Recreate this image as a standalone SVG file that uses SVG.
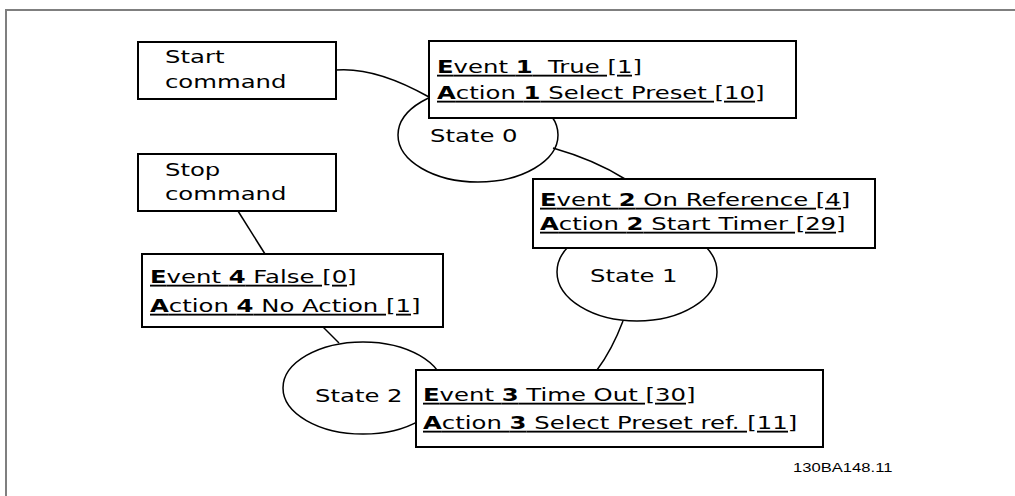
<svg xmlns="http://www.w3.org/2000/svg" width="1015" height="496" viewBox="0 0 1015 496">
<style>
.box{fill:#fff;stroke:#000;stroke-width:2}
.st{fill:#fff;stroke:#000;stroke-width:1.5}
.ln{fill:none;stroke:#000;stroke-width:1.5}
text{font-family:"DejaVu Sans",Verdana,sans-serif;font-size:18.5px;fill:#000}
.u{text-decoration:underline}
.b{font-weight:bold}
.code{font-family:"Liberation Sans",Arial,sans-serif;font-size:12.5px}
</style>
<rect width="1015" height="496" fill="#fff"/>
<path d="M6,496 V10 H1015" fill="none" stroke="#7f7f7f" stroke-width="2"/>
<g id="state0"><ellipse class="st" cx="478" cy="135" rx="80" ry="47"/><text transform="translate(430,142) scale(1.315,1)">State 0</text></g>
<g id="state1"><ellipse class="st" cx="637" cy="272" rx="80" ry="49"/><text transform="translate(590,282) scale(1.315,1)">State 1</text></g>
<g id="state2"><ellipse class="st" cx="363" cy="388" rx="80" ry="46"/><text transform="translate(315,402) scale(1.315,1)">State 2</text></g>
<g id="connectors">
<path class="ln" d="M336,70 C360,68 390,75 429,97"/>
<path class="ln" d="M553,148 Q595,160 625,179"/>
<path class="ln" d="M623,321 Q612,350 597,370"/>
<path class="ln" d="M238,211 L265,254"/>
<path class="ln" d="M323,327 L339,343"/>
</g>
<g id="start"><rect class="box" x="138" y="42" width="198" height="57"/><text transform="translate(165,63) scale(1.315,1)">Start</text><text transform="translate(165,88) scale(1.315,1)">command</text></g>
<g id="stop"><rect class="box" x="138" y="154" width="198" height="57"/><text transform="translate(165,176) scale(1.315,1)">Stop</text><text transform="translate(165,200) scale(1.315,1)">command</text></g>
<g id="ev1"><rect class="box" x="429" y="41" width="367" height="77"/>
<text class="u" xml:space="preserve" transform="translate(437,73) scale(1.315,1)"><tspan class="b">E</tspan>vent <tspan class="b">1</tspan>  True [1]</text>
<text class="u" transform="translate(437,99) scale(1.315,1)"><tspan class="b">A</tspan>ction <tspan class="b">1</tspan> Select Preset [10]</text></g>
<g id="ev2"><rect class="box" x="533" y="179" width="342" height="69"/>
<text class="u" transform="translate(540,206) scale(1.315,1)"><tspan class="b">E</tspan>vent <tspan class="b">2</tspan> On Reference [4]</text>
<text class="u" transform="translate(540,230) scale(1.315,1)"><tspan class="b">A</tspan>ction <tspan class="b">2</tspan> Start Timer [29]</text></g>
<g id="ev4"><rect class="box" x="142" y="254" width="301" height="73"/>
<text class="u" transform="translate(150,283) scale(1.315,1)"><tspan class="b">E</tspan>vent <tspan class="b">4</tspan> False [0]</text>
<text class="u" transform="translate(150,312) scale(1.315,1)"><tspan class="b">A</tspan>ction <tspan class="b">4</tspan> No Action [1]</text></g>
<g id="ev3"><rect class="box" x="416" y="370" width="407" height="77"/>
<text class="u" transform="translate(423,401) scale(1.315,1)"><tspan class="b">E</tspan>vent <tspan class="b">3</tspan> Time Out [30]</text>
<text class="u" transform="translate(423,429) scale(1.315,1)"><tspan class="b">A</tspan>ction <tspan class="b">3</tspan> Select Preset ref. [11]</text></g>
<g id="label"><text class="code" transform="translate(793,472) scale(1.33,1)">130BA148.11</text></g>
</svg>
